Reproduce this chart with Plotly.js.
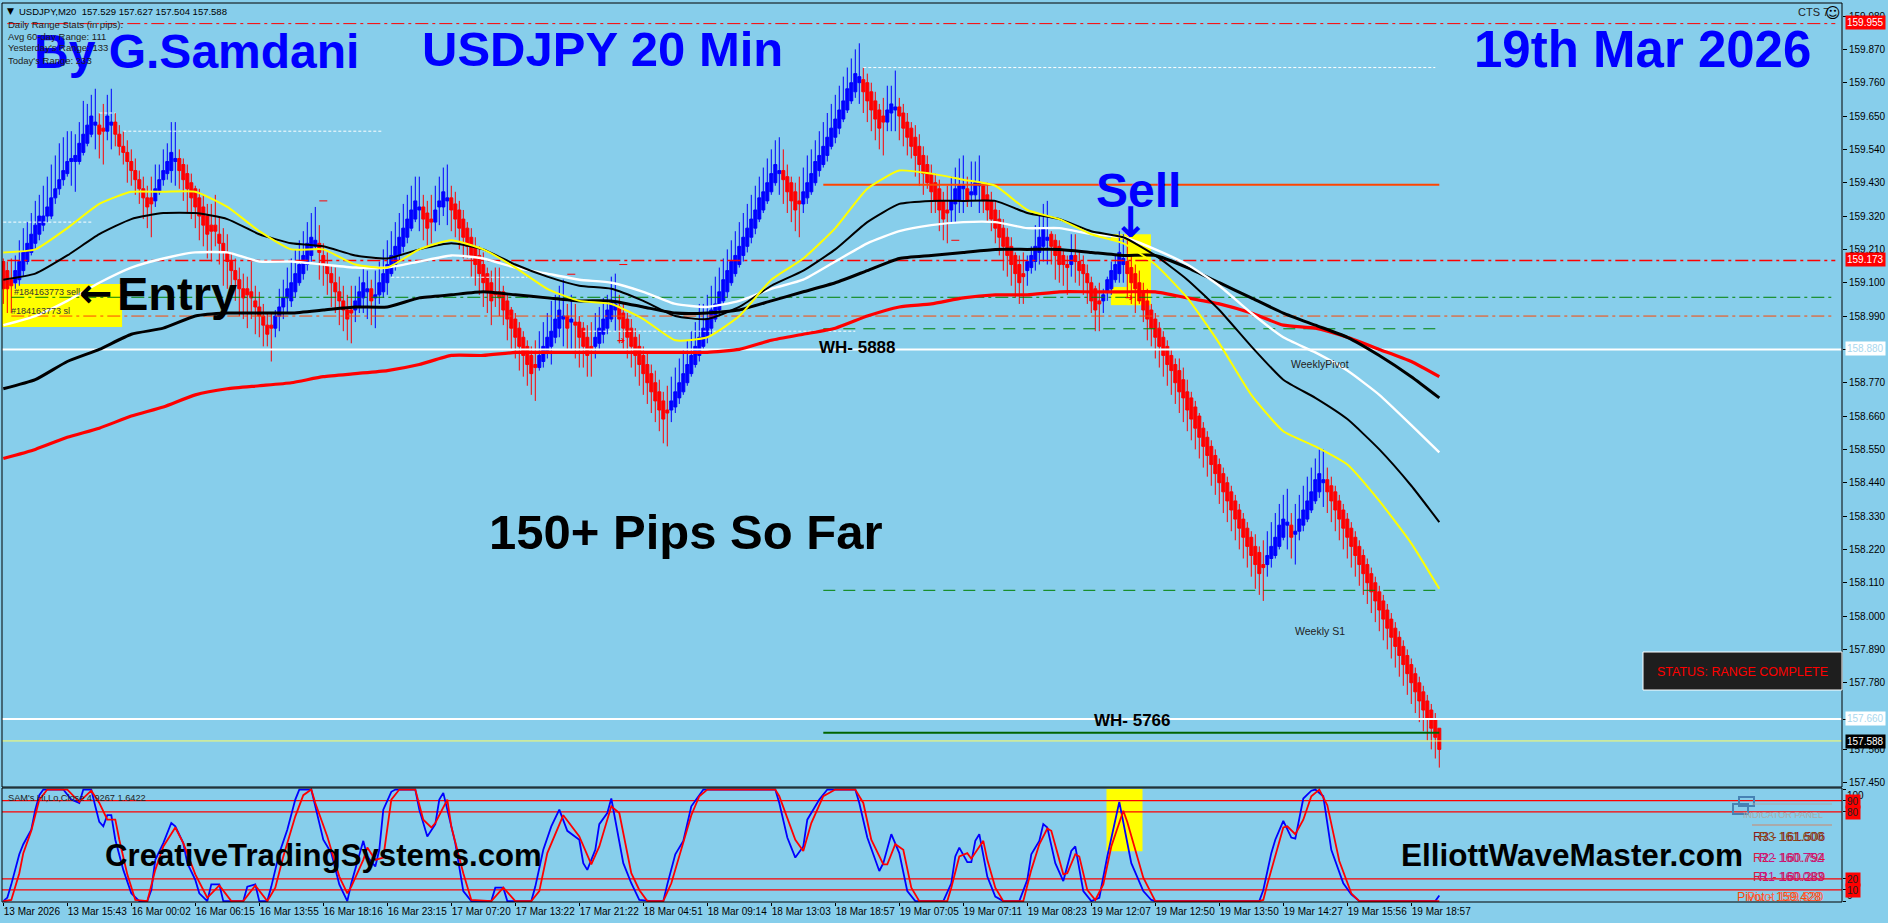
<!DOCTYPE html>
<html><head><meta charset="utf-8">
<script src="https://cdn.plot.ly/plotly-3.0.1.min.js"></script>
<style>html,body{margin:0;padding:0;background:#87CEEB}#c{width:1888px;height:923px}</style>
</head><body><div id="c"></div>
<script>
// Candle values in pips (price x 100), one per 20-minute bar.
const candleOpen=[
15917,15914,15911,15910,15911,15914,15917,15920,15923,15926,
15929,15932,15932,15938,15941,15944,15946,15950,15950,15950,
15953,15956,15959,15962,15962,15961,15960,15962,15963,15959,
15955,15953,15950,15947,15944,15941,15938,15938,15937,15940,
15944,15946,15947,15950,15951,15949,15946,15943,15941,15938,
15935,15932,15929,15929,15926,15923,15920,15917,15914,15911,
15908,15908,15907,15904,15902,15899,15896,15896,15895,15899,
15902,15905,15904,15907,15910,15913,15916,15919,15922,15923,
15919,15916,15913,15910,15907,15904,15901,15901,15901,15902,
15905,15907,15908,15905,15906,15907,15910,15913,15916,15919,
15922,15925,15928,15931,15934,15935,15933,15931,15930,15935,
15935,15937,15938,15936,15934,15931,15928,15925,15922,15919,
15916,15913,15910,15907,15907,15907,15904,15901,15898,15895,
15892,15889,15886,15883,15882,15884,15887,15889,15892,15895,
15898,15899,15897,15897,15897,15895,15892,15889,15889,15890,
15893,15895,15898,15901,15902,15900,15898,15895,15892,15889,
15886,15883,15880,15877,15874,15871,15868,15868,15869,15872,
15874,15877,15880,15883,15886,15889,15892,15895,15898,15901,
15904,15907,15910,15913,15916,15919,15922,15925,15928,15931,
15934,15937,15940,15943,15946,15947,15945,15943,15940,15937,
15936,15938,15940,15943,15947,15949,15952,15955,15958,15961,
15964,15967,15970,15973,15976,15977,15976,15973,15970,15967,
15965,15963,15966,15967,15968,15966,15963,15961,15958,15955,
15952,15949,15946,15943,15941,15937,15934,15934,15936,15937,
15941,15941,15939,15939,15942,15942,15939,15937,15934,15931,
15928,15925,15922,15919,15916,15913,15914,15915,15917,15920,
15922,15924,15926,15924,15922,15919,15916,15916,15919,15917,
15916,15913,15910,15908,15904,15904,15907,15908,15911,15913,
15916,15917,15915,15913,15910,15907,15904,15901,15898,15895,
15892,15889,15886,15883,15881,15878,15874,15872,15869,15866,
15862,15859,15856,15853,15850,15847,15844,15841,15838,15835,
15832,15829,15826,15823,15821,15817,15817,15819,15820,15823,
15826,15830,15830,15827,15828,15830,15832,15835,15838,15841,
15844,15845,15843,15841,15838,15835,15832,15829,15826,15823,
15820,15817,15814,15811,15808,15805,15802,15799,15796,15793,
15790,15787,15784,15781,15778,15775,15772,15769,15766,15763];
const candleClose=[
15908,15908,15909,15914,15917,15920,15923,15926,15929,15932,
15932,15935,15938,15941,15944,15947,15950,15951,15952,15956,
15959,15962,15965,15963,15959,15960,15965,15963,15959,15955,
15953,15950,15947,15944,15941,15938,15935,15936,15941,15944,
15947,15950,15953,15951,15947,15944,15941,15938,15935,15932,
15929,15926,15927,15927,15923,15920,15917,15914,15911,15908,
15905,15906,15905,15902,15899,15896,15893,15895,15899,15902,
15905,15908,15910,15913,15916,15919,15923,15925,15924,15920,
15916,15913,15910,15907,15904,15901,15898,15900,15904,15907,
15910,15908,15904,15906,15910,15913,15916,15919,15922,15925,
15928,15931,15934,15937,15935,15931,15928,15930,15934,15937,
15940,15938,15934,15931,15928,15925,15922,15919,15916,15913,
15910,15907,15904,15906,15905,15901,15898,15895,15892,15889,
15886,15883,15880,15882,15886,15889,15892,15894,15898,15901,
15899,15895,15898,15896,15892,15889,15886,15888,15892,15895,
15898,15901,15904,15903,15898,15895,15892,15889,15886,15883,
15880,15877,15874,15871,15868,15865,15867,15871,15874,15877,
15880,15883,15886,15889,15892,15895,15898,15901,15903,15907,
15911,15914,15917,15919,15922,15925,15928,15931,15934,15938,
15940,15943,15946,15949,15947,15944,15940,15937,15934,15936,
15940,15943,15946,15950,15952,15955,15958,15961,15964,15967,
15970,15974,15976,15979,15978,15973,15970,15967,15964,15961,
15963,15967,15969,15968,15965,15961,15958,15955,15952,15949,
15946,15943,15940,15937,15934,15931,15933,15937,15941,15942,
15942,15937,15940,15943,15943,15937,15934,15931,15928,15925,
15922,15919,15916,15913,15910,15912,15917,15919,15922,15925,
15928,15925,15922,15919,15916,15916,15915,15919,15917,15914,
15913,15910,15904,15901,15903,15906,15911,15914,15916,15920,
15918,15913,15910,15908,15904,15901,15898,15895,15892,15889,
15886,15883,15881,15877,15874,15872,15868,15865,15862,15859,
15856,15853,15850,15847,15844,15841,15838,15835,15832,15829,
15826,15823,15820,15817,15814,15816,15820,15823,15826,15830,
15832,15831,15826,15828,15832,15835,15838,15841,15845,15847,
15845,15841,15838,15835,15832,15829,15826,15823,15820,15817,
15814,15811,15808,15805,15802,15799,15796,15793,15790,15787,
15784,15781,15778,15775,15772,15769,15766,15763,15760,15756];
const candleHigh=[
15918,15917,15918,15919,15924,15928,15930,15933,15937,15939,
15942,15945,15949,15952,15956,15958,15960,15960,15959,15963,
15970,15969,15972,15974,15966,15969,15972,15974,15966,15962,
15960,15957,15954,15951,15947,15945,15942,15945,15949,15949,
15954,15956,15963,15963,15954,15951,15949,15946,15942,15941,
15939,15936,15936,15939,15932,15928,15926,15920,15918,15915,
15913,15912,15917,15909,15907,15903,15900,15900,15901,15908,
15911,15915,15918,15921,15924,15927,15930,15933,15935,15929,
15923,15920,15916,15915,15912,15909,15906,15909,15909,15912,
15915,15914,15911,15914,15917,15921,15924,15927,15930,15933,
15936,15939,15942,15945,15945,15939,15937,15939,15942,15945,
15948,15949,15942,15940,15937,15934,15930,15928,15925,15922,
15920,15915,15914,15915,15915,15909,15906,15902,15900,15897,
15894,15891,15889,15891,15894,15897,15900,15904,15906,15909,
15911,15903,15906,15903,15899,15897,15896,15897,15900,15902,
15905,15906,15912,15913,15906,15903,15900,15898,15895,15893,
15889,15887,15883,15881,15878,15874,15876,15879,15882,15885,
15888,15891,15894,15897,15903,15903,15906,15909,15912,15915,
15918,15921,15924,15927,15930,15933,15936,15939,15942,15945,
15948,15951,15954,15957,15958,15954,15949,15945,15943,15945,
15948,15952,15954,15957,15960,15963,15966,15969,15972,15975,
15978,15981,15984,15987,15989,15981,15979,15976,15973,15969,
15971,15975,15975,15980,15971,15969,15966,15963,15962,15959,
15955,15952,15949,15946,15944,15940,15942,15945,15948,15951,
15952,15945,15950,15950,15952,15943,15943,15940,15937,15934,
15931,15928,15925,15920,15919,15920,15919,15922,15929,15932,
15936,15937,15927,15926,15924,15921,15919,15926,15926,15920,
15919,15916,15912,15909,15910,15908,15912,15917,15919,15927,
15926,15924,15919,15916,15914,15910,15908,15903,15900,15897,
15894,15891,15888,15885,15885,15882,15878,15874,15871,15867,
15864,15861,15858,15855,15852,15849,15846,15843,15840,15837,
15834,15831,15828,15827,15823,15825,15828,15831,15834,15837,
15840,15842,15834,15837,15840,15843,15846,15849,15852,15855,
15855,15849,15846,15843,15840,15837,15834,15831,15828,15825,
15822,15819,15816,15813,15810,15807,15804,15801,15798,15795,
15792,15789,15786,15783,15780,15777,15774,15771,15768,15763];
const candleLow=[
15903,15900,15900,15908,15909,15912,15916,15919,15921,15924,
15927,15930,15931,15936,15939,15942,15945,15942,15940,15949,
15952,15955,15958,15954,15951,15949,15957,15954,15955,15952,
15949,15943,15942,15939,15936,15931,15928,15925,15935,15939,
15942,15944,15943,15942,15941,15937,15933,15931,15928,15924,
15922,15918,15917,15922,15916,15909,15908,15907,15904,15899,
15898,15895,15898,15893,15892,15889,15889,15884,15892,15894,
15898,15900,15902,15905,15909,15911,15914,15917,15921,15911,
15909,15906,15902,15900,15896,15894,15891,15890,15897,15900,
15900,15898,15896,15895,15903,15905,15906,15912,15914,15917,
15920,15923,15927,15930,15927,15924,15922,15923,15927,15929,
15932,15929,15927,15925,15921,15918,15918,15912,15909,15906,
15902,15900,15896,15902,15899,15896,15891,15888,15885,15881,
15879,15876,15873,15871,15881,15882,15885,15883,15890,15892,
15889,15888,15888,15885,15882,15882,15879,15879,15885,15888,
15890,15893,15897,15894,15890,15888,15885,15882,15879,15876,
15873,15870,15867,15864,15861,15857,15856,15864,15867,15870,
15873,15876,15879,15882,15884,15888,15890,15893,15897,15899,
15903,15905,15909,15912,15915,15917,15920,15923,15926,15930,
15933,15936,15939,15942,15939,15936,15933,15930,15927,15925,
15933,15936,15939,15942,15945,15948,15950,15954,15956,15959,
15963,15966,15969,15971,15969,15966,15963,15960,15957,15954,
15952,15960,15960,15960,15957,15955,15952,15951,15945,15942,
15939,15941,15933,15933,15927,15924,15923,15930,15930,15933,
15933,15935,15935,15937,15933,15933,15930,15927,15923,15919,
15914,15912,15909,15905,15903,15903,15909,15913,15914,15916,
15917,15916,15916,15911,15910,15909,15906,15912,15910,15909,
15906,15903,15900,15894,15894,15900,15904,15906,15910,15910,
15910,15905,15903,15900,15903,15897,15891,15889,15885,15882,
15879,15876,15873,15870,15867,15864,15861,15858,15855,15852,
15849,15846,15843,15840,15837,15834,15831,15828,15825,15822,
15819,15816,15813,15809,15807,15805,15813,15816,15819,15822,
15825,15822,15819,15817,15825,15828,15831,15834,15837,15839,
15836,15834,15831,15828,15825,15822,15819,15816,15813,15810,
15807,15804,15801,15798,15795,15792,15789,15786,15783,15780,
15777,15774,15771,15768,15765,15762,15759,15756,15753,15750];

// Moving averages, pips, read at these bars
const maBar=[0,8,16,24,32,40,48,56,64,72,80,88,96,104,112,120,128,136,144,152,160,168,176,184,192,200,208,216,224,232,240,248,256,264,272,280,288,296,304,312,320,328,336,344,352,359];
const maYellow=[15920,15921,15928,15936,15940,15940,15940,15935,15927,15921,15921,15916,15915,15921,15924,15921,15915,15908,15904,15903,15898,15891,15892,15899,15911,15918,15928,15941,15947,15946,15944,15942,15934,15931,15926,15923,15916,15905,15890,15873,15861,15856,15850,15838,15824,15809];
const maThinBlack=[15911,15913,15919,15926,15931,15933,15933,15931,15926,15923,15922,15919,15918,15921,15923,15921,15916,15912,15909,15908,15904,15899,15898,15902,15909,15914,15921,15930,15936,15937,15937,15937,15933,15931,15927,15925,15919,15911,15901,15889,15878,15872,15865,15855,15843,15831];
const maWhite=[15896,15899,15904,15910,15915,15918,15920,15920,15917,15917,15916,15915,15915,15917,15919,15918,15915,15913,15911,15910,15907,15903,15902,15904,15908,15911,15917,15923,15927,15929,15930,15930,15928,15928,15926,15925,15921,15916,15909,15900,15892,15887,15881,15873,15863,15854];
const maThickBlack=[15875,15878,15884,15888,15893,15895,15899,15900,15900,15900,15901,15902,15902,15905,15906,15907,15906,15905,15904,15904,15902,15900,15900,15901,15904,15907,15910,15914,15918,15919,15920,15921,15921,15921,15920,15919,15919,15915,15910,15905,15900,15896,15892,15886,15879,15872];
const maRed=[15852,15855,15859,15862,15866,15869,15873,15875,15876,15877,15879,15880,15881,15883,15886,15886,15887,15887,15887,15887,15887,15887,15887,15888,15891,15893,15895,15899,15902,15903,15905,15906,15906,15907,15907,15907,15907,15905,15903,15900,15896,15895,15892,15888,15884,15879];

// Stochastic oscillator
const stochBlueBar=[0,1,2,4,5,7,8,9,10,15,17,19,20,22,23,24,25,26,27,28,30,32,34,36,37,38,40,42,43,45,46,48,49,51,52,54,55,60,61,63,64,66,67,69,71,73,74,77,80,82,84,86,87,89,90,91,93,94,95,97,98,103,104,106,108,109,110,111,113,115,117,122,123,125,126,132,133,135,137,139,141,144,145,146,148,149,151,152,153,155,157,159,162,165,166,168,170,172,175,193,194,196,198,200,201,204,206,213,214,216,219,220,222,224,226,228,235,237,238,239,241,242,243,244,246,248,250,254,256,257,259,260,261,263,265,267,268,270,272,274,276,279,282,285,287,288,314,315,317,318,320,322,323,325,327,328,330,332,335,337,339,358,359];
const stochBlueVal=[0,3,15,42,51,64,82,95,100,100,91,88,100,100,85,71,67,77,77,55,28,7,0,0,10,37,52,70,67,52,34,19,7,0,15,15,0,0,13,15,0,0,13,43,64,91,100,100,55,43,15,0,16,43,54,40,31,46,82,98,100,100,82,58,69,91,97,82,52,9,0,0,12,12,0,0,13,46,67,82,63,55,34,28,46,69,79,92,73,34,16,1,0,0,15,42,54,85,100,100,88,57,39,49,73,91,100,100,88,57,27,34,60,43,9,0,0,16,40,48,35,35,54,60,22,4,0,0,19,42,54,69,66,34,18,45,49,9,0,3,40,89,34,9,1,0,0,10,43,55,72,57,56,92,99,100,94,46,16,6,0,0,5];
const stochRedBar=[0,2,4,5,7,9,11,16,19,22,24,26,28,29,31,33,36,38,40,43,45,48,51,54,57,60,63,66,68,70,73,75,77,78,81,84,86,87,90,91,93,95,97,99,103,105,107,108,111,112,115,117,122,125,128,132,134,136,140,144,147,149,152,154,157,159,161,165,167,169,172,174,176,193,194,198,200,202,205,208,213,215,217,220,221,223,225,227,229,236,237,239,241,242,245,246,248,250,255,257,259,261,262,265,266,268,269,271,273,275,277,280,281,285,288,314,315,316,318,320,321,323,325,327,329,331,334,337,339,359];
const stochRedVal=[0,1,25,43,63,91,100,100,89,99,88,73,73,55,24,1,0,28,49,66,52,24,3,14,0,0,14,0,12,40,76,95,100,88,58,22,7,13,37,48,37,39,91,100,100,73,66,70,91,67,25,1,0,12,0,0,9,43,77,58,33,49,85,79,25,10,0,0,16,40,77,94,100,100,94,55,45,70,94,100,100,88,55,33,33,51,46,12,0,0,12,40,43,38,54,37,12,0,0,28,51,65,63,24,25,42,40,10,1,15,49,81,71,21,0,0,1,15,40,66,67,60,73,94,100,86,36,7,0,0];
const stochLevels=[90,80,20,10];

// Price axis and time axis labels
const priceTicks=[159.98,159.87,159.76,159.65,159.54,159.43,159.32,159.21,159.10,158.99,158.88,158.77,158.66,158.55,158.44,158.33,158.22,158.11,158.00,157.89,157.78,157.66,157.56,157.45];
const timeTickBars=[0,16,32,48,64,80,96,112,128,144,160,176,192,208,224,240,256,272,288,304,320,336,352];
const timeLabels=['13 Mar 2026','13 Mar 15:43','16 Mar 00:02','16 Mar 06:15','16 Mar 13:55','16 Mar 18:16','16 Mar 23:15','17 Mar 07:20','17 Mar 13:22','17 Mar 21:22','18 Mar 04:51','18 Mar 09:14','18 Mar 13:03','18 Mar 18:57','19 Mar 07:05','19 Mar 07:11','19 Mar 08:23','19 Mar 12:07','19 Mar 12:50','19 Mar 13:50','19 Mar 14:27','19 Mar 15:56','19 Mar 18:57'];

// Horizontal price levels
const levelPrices={high:159.955,mid:159.173,greenDash:159.052,orangeDash:158.99,pivotWeekly:158.948,wh5888:158.88,r1Weekly:159.423,s1Weekly:158.085,wh5766:157.615,white:157.66,bid:157.588};
const dottedPrices=[159.81,159.66,159.60,159.30,159.118,158.94];
const tagPrices=[159.37,159.24,159.16,159.128];

const toPrice=a=>a.map(v=>v/100);
const FULL_END=459.6, WEEK_START=205, WEEK_END=359;
const SMALL='"Liberation Sans",Arial,sans-serif';
const BOLD='"Liberation Sans",Arial,sans-serif';
const level=(p,x0,x1,color,width,dash)=>({type:'scatter',mode:'lines',x:[x0,x1],y:[p,p],xaxis:'x',yaxis:'y',hoverinfo:'skip',showlegend:false,line:{color,width,dash}});
const DD='13px,4px,3px,4px';
const traces=[{
  type:'candlestick',x:candleOpen.map((_,i)=>i),open:toPrice(candleOpen),high:toPrice(candleHigh),low:toPrice(candleLow),close:toPrice(candleClose),
  xaxis:'x',yaxis:'y',hoverinfo:'skip',showlegend:false,whiskerwidth:0,
  increasing:{line:{color:'#0000FF',width:1},fillcolor:'#0000FF'},
  decreasing:{line:{color:'#FF0000',width:1},fillcolor:'#FF0000'}
},
 level(levelPrices.high,1,458,'#FF0000',1,DD),
 level(levelPrices.mid,1,458,'#FF0000',1.5,DD),
 level(levelPrices.greenDash,2,458,'#008000',1,DD),
 level(levelPrices.orangeDash,2,458,'#FF4500',1,DD),
 level(levelPrices.pivotWeekly,WEEK_START,WEEK_END,'#008000',1,'12px,8px'),
 level(levelPrices.s1Weekly,WEEK_START,WEEK_END,'#008000',1,'12px,8px'),
 level(levelPrices.r1Weekly,WEEK_START,WEEK_END,'#FF4500',2,'solid'),
 level(levelPrices.wh5766,WEEK_START,WEEK_END,'#006400',2,'solid'),
 level(levelPrices.wh5888,-0.3,FULL_END,'#FFFFFF',2,'solid'),
 level(levelPrices.white,-0.3,FULL_END,'#FFFFFF',2,'solid'),
 level(levelPrices.bid,-0.3,FULL_END,'#FFFF66',1,'solid'),
 level(dottedPrices[0],215,358,'#FFFFFF',1,'3px,2px'),
 level(dottedPrices[1],24,28,'#FFFFFF',1,'3px,2px'),
 level(dottedPrices[2],30,95,'#FFFFFF',1,'3px,2px'),
 level(dottedPrices[3],0,22,'#FFFFFF',1,'3px,2px'),
 level(dottedPrices[4],97,131,'#FFFFFF',1,'3px,2px'),
 level(dottedPrices[5],145,213,'#FFFFFF',1,'3px,2px'),
 level(tagPrices[0],79,81,'#FF0000',1,'solid'),
 level(tagPrices[1],237,239,'#FF0000',1,'solid'),
 level(tagPrices[2],154,156,'#FF0000',1,'solid'),
 level(tagPrices[3],141,143,'#FF0000',1,'solid')
];
[[maRed,'#FF0000',3.2],[maThickBlack,'#000000',3],[maWhite,'#FFFFFF',2.4],[maThinBlack,'#000000',2],[maYellow,'#FFFF00',2]].forEach(([v,color,width])=>{
  traces.push({type:'scatter',mode:'lines',x:maBar,y:toPrice(v),xaxis:'x',yaxis:'y',hoverinfo:'skip',showlegend:false,line:{color,width,shape:'spline',smoothing:0.5}});
});
stochLevels.forEach(v=>traces.push({type:'scatter',mode:'lines',x:[-0.3,FULL_END],y:[v,v],xaxis:'x',yaxis:'y2',hoverinfo:'skip',showlegend:false,line:{color:'#FF0000',width:1.3}}));
traces.push({type:'scatter',mode:'lines',x:stochBlueBar,y:stochBlueVal,xaxis:'x',yaxis:'y2',hoverinfo:'skip',showlegend:false,line:{color:'#0000FF',width:1.8}});
traces.push({type:'scatter',mode:'lines',x:stochRedBar,y:stochRedVal,xaxis:'x',yaxis:'y2',hoverinfo:'skip',showlegend:false,line:{color:'#FF0000',width:1.8}});

const rect=(x0,x1,y0,y1,yref)=>({type:'rect',layer:'below',xref:'x',yref,x0,x1,y0,y1,fillcolor:'#FFFF00',line:{width:0}});
const frame=(y0,y1)=>({type:'rect',layer:'above',xref:'paper',yref:'paper',x0:0,x1:1,y0:(902-y1)/899,y1:(902-y0)/899,fillcolor:'rgba(0,0,0,0)',line:{color:'#000',width:1}});
const px=(x0,x1,y0,y1,o)=>Object.assign({xref:'paper',yref:'paper',x0:(x0-2)/1840,x1:(x1-2)/1840,y0:(902-y0)/899,y1:(902-y1)/899,layer:'above'},o);
const shapes=[
 rect(-0.5,29.7,158.954,159.096,'y'),
 rect(280.9,286.9,159.026,159.26,'y'),
 rect(276.9,280.9,159.026,159.086,'y'),
 rect(276.9,280.9,159.24,159.26,'y'),
 rect(275.8,284.8,44.6,100.6,'y2'),
 frame(3,787),frame(788,902),
 px(1643,1842,652,690,{type:'rect',fillcolor:'#1E1E1E',line:{color:'#FFFFFF',width:1}}),
 px(1733,1748,804,814,{type:'rect',fillcolor:'rgba(0,0,0,0)',line:{color:'#4682B4',width:2}}),
 px(1739,1754,797,806,{type:'rect',fillcolor:'rgba(0,0,0,0)',line:{color:'#4682B4',width:2}}),
 px(1752,1832,804,804,{type:'line',line:{color:'#AAAAAA',width:1}}),
 px(1752,1832,825,825,{type:'line',line:{color:'#AAAAAA',width:2}})
];

const note=(text,x,y,size,color,o={})=>Object.assign({xref:'paper',yref:'paper',x:(x-2)/1840,y:(902-y)/899,text,showarrow:false,xanchor:'left',yanchor:'middle',borderpad:0,font:{family:SMALL,size,color}},o);
const big=(text,x,y,size,color)=>note('<b>'+text+'</b>',x,y,size,color,{font:{family:BOLD,size,color}});
const glyph=(text,x,y,size,color)=>note('<b>'+text+'</b>',x,y,size,color,{xanchor:'center',font:{family:'"DejaVu Sans"',size,color}});
const tag=(text,y,bg,color)=>note(text,1845,y,10,color,{bgcolor:bg,borderpad:1});
const annotations=[
 big('By G.Samdani',33,51,48,'#0000FF'),
 big('USDJPY 20 Min',421,49,49,'#0000FF'),
 big('19th Mar 2026',1473,50,51,'#0000FF'),
 big('Sell',1095,190,48,'#0000FF'),
 glyph('↓',1130,222,42,'#0000FF'),
 glyph('←',96,293,40,'#000000'),
 big('Entry',116,293,47,'#000000'),
 big('150+ Pips So Far',488,532,49,'#000000'),
 big('WH- 5888',818,348,17,'#000000'),
 big('WH- 5766',1093,720,17,'#000000'),
 big('CreativeTradingSystems.com',104,855,31.2,'#000000'),
 big('ElliottWaveMaster.com',1400,855,31.5,'#000000'),
 note('▼',6,11,9,'#000',{font:{family:'"DejaVu Sans"',size:9,color:'#000'}}),
 note('USDJPY,M20  157.529 157.627 157.504 157.588',18,12,9.5,'#000'),
 note('Daily Range Stats (in pips):',7,24,9.5,'#222'),
 note('Avg 60-day Range: 111',7,36,9.5,'#222'),
 note("Yesterday's Range: 133",7,48,9.5,'#222'),
 note("Today's Range: 233",7,60,9.5,'#222'),
 note('CTS 7',1797,12,11,'#222'),
 note('☺',1824,13,15,'#000',{font:{family:'"DejaVu Sans"',size:15,color:'#000'}}),
 note('#184163773 sell',13,292,9,'#333'),
 note('#184163773 sl',10,311,9,'#333'),
 note('WeeklyPivot',1290,364,10.5,'#222'),
 note('Weekly S1',1294,631,10.5,'#222'),
 note('STATUS: RANGE COMPLETE',1656,672,12.5,'#FF0000'),
 note("SAM's Hi,Lo,Close 4.9267 1.6422",7,798,9.2,'#222'),
 note('➔',616,340,10,'#FF0000',{font:{family:'"DejaVu Sans"',size:10,color:'#FF0000'}}),
 note('➔',1124,297,10,'#FF0000',{font:{family:'"DejaVu Sans"',size:10,color:'#FF0000'}}),
 tag('159.955',22.7,'#FF0000','#FFFFFF'),
 tag('159.173',259.5,'#FF0000','#FFFFFF'),
 tag('158.880',348.7,'#FFFFFF','#A9D8EE'),
 tag('157.660',718.7,'#FFFFFF','#A9D8EE'),
 tag('157.588',741.7,'#000000','#FFFFFF'),
 note('100',1846,795,10,'#000'),
 note('0',1846,895.7,10,'#000'),
 tag('90',801.7,'#FF0000','#222'),
 tag('80',812.3,'#FF0000','#222'),
 tag('20',879.3,'#FF0000','#222'),
 tag('10',890.3,'#FF0000','#222'),
 note('INDICATOR PANEL',1742,815,9,'#A9A9A9'),
 note('R3 - 161.506',1752,837,12.5,'#8B1A1A'),
 note('R3 161.600',1758,837,12.5,'#8B4513'),
 note('R2 - 160.794',1752,858,12.5,'#DC143C'),
 note('R2 160.752',1758,858,12.5,'#C71585'),
 note('R1 - 160.289',1752,877,12.5,'#DC143C'),
 note('R1 160.083',1758,877,12.5,'#C71585'),
 note('Pivot - 159.428',1736,897,12.5,'#FF4500'),
 note('Pivot 159.520',1746,897,12.5,'#FF6347')
];

const layout={
 width:1888,height:923,autosize:false,
 margin:{l:2,r:46,t:3,b:21,pad:0},
 paper_bgcolor:'#87CEEB',plot_bgcolor:'#87CEEB',showlegend:false,hovermode:false,
 boxgap:0.25,boxgroupgap:0,
 xaxis:{domain:[0,1],range:[-0.325,459.675],anchor:'y2',showgrid:false,zeroline:false,rangeslider:{visible:false},
   tickmode:'array',tickvals:timeTickBars,ticktext:timeLabels,tickangle:0,ticks:'outside',ticklen:3,tickcolor:'#000',
   ticklabelposition:'outside right',tickfont:{family:SMALL,size:10,color:'#000'},showline:false},
 yaxis:{domain:[115/899,1],range:[157.436,160.023],side:'right',anchor:'x',showgrid:false,zeroline:false,
   tickmode:'array',tickvals:priceTicks,ticktext:priceTicks.map(v=>v.toFixed(3)),ticks:'outside',ticklen:4,tickcolor:'#000',
   tickfont:{family:SMALL,size:10,color:'#000'},showline:false},
 yaxis2:{domain:[0,114/899],range:[-0.8,101.4],side:'right',anchor:'x',showgrid:false,zeroline:false,
   tickmode:'array',tickvals:[100,90,80,20,10,0],ticktext:['','','','','',''],ticks:'outside',ticklen:3,tickcolor:'#000',showline:false},
 shapes,annotations
};
Plotly.newPlot('c',traces,layout,{staticPlot:true,displayModeBar:false});
</script></body></html>
